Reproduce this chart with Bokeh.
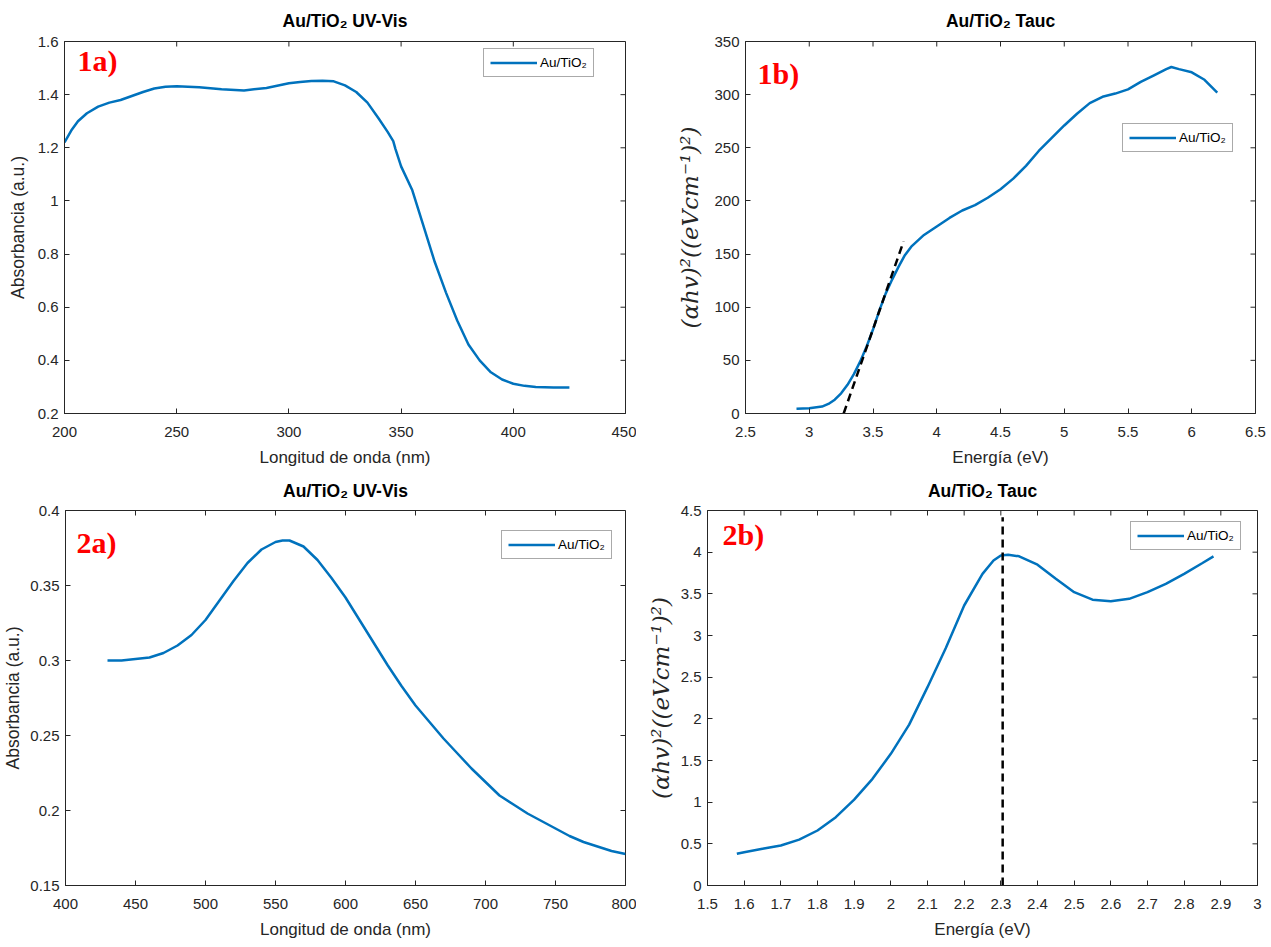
import math
from bokeh.plotting import figure
from bokeh.models import FixedTicker, CustomJSTickFormatter, Label, Range1d
from bokeh.layouts import column, row
from bokeh.embed import file_html
from bokeh.resources import INLINE

# ---------------- data ----------------
# 1a) UV-Vis
wl_1a = [200, 203, 206, 210, 215, 220, 225, 230, 235, 240, 245, 250, 260, 270, 280, 290,
         300, 305, 310, 315, 320, 325, 330, 335, 340, 344, 346.5, 347.5, 350, 355,
         360, 365, 370, 375, 380, 385, 390, 395, 400, 405, 410, 418, 425]
abs_1a = [1.22, 1.265, 1.30, 1.33, 1.355, 1.37, 1.38, 1.395, 1.41, 1.423, 1.43, 1.432, 1.428,
          1.42, 1.416, 1.425, 1.443, 1.448, 1.451, 1.452, 1.45, 1.435, 1.41, 1.37, 1.31,
          1.26, 1.225, 1.195, 1.13, 1.04, 0.905, 0.77, 0.655, 0.55, 0.46, 0.40, 0.355,
          0.328, 0.312, 0.304, 0.300, 0.298, 0.298]

# 1b) Tauc
en_1b = [2.9, 3.0, 3.1, 3.15, 3.2, 3.25, 3.3, 3.35, 3.4, 3.45, 3.5, 3.55, 3.6, 3.65,
         3.7, 3.75, 3.8, 3.9, 4.0, 4.1, 4.2, 4.3, 4.4, 4.5, 4.6, 4.7, 4.8, 4.9, 5.0,
         5.1, 5.2, 5.3, 5.4, 5.5, 5.6, 5.7, 5.8, 5.84, 5.9, 6.0, 6.1, 6.2]
tauc_1b = [4.5, 5.0, 6.5, 9, 13, 19, 27, 37, 49, 63, 79, 97, 113, 126, 138, 149, 157,
           168, 176, 184, 191, 196, 203, 211, 221, 233, 247, 259, 271, 282, 292, 298,
           301, 305, 312, 318, 324, 326, 324, 321, 314, 302]
fit_x_1b = [3.27, 3.74]
fit_y_1b = [0, 162]

# 2a) UV-Vis
wl_2a = [430, 440, 450, 460, 470, 480, 490, 500, 510, 520, 530, 540, 550, 555, 560,
         570, 580, 590, 600, 610, 620, 630, 640, 650, 660, 670, 680, 690, 700, 710,
         720, 730, 740, 750, 760, 770, 780, 790, 800]
abs_2a = [0.300, 0.300, 0.301, 0.302, 0.305, 0.310, 0.317, 0.327, 0.340, 0.353, 0.365,
          0.374, 0.379, 0.380, 0.380, 0.376, 0.367, 0.355, 0.342, 0.327, 0.312, 0.297,
          0.283, 0.270, 0.259, 0.248, 0.238, 0.228, 0.219, 0.210, 0.204, 0.198, 0.193,
          0.188, 0.183, 0.179, 0.176, 0.173, 0.171]

# 2b) Tauc
en_2b = [1.58, 1.6, 1.65, 1.7, 1.75, 1.8, 1.85, 1.9, 1.95, 2.0, 2.05, 2.1, 2.15, 2.2,
         2.25, 2.28, 2.3, 2.32, 2.35, 2.4, 2.45, 2.5, 2.55, 2.6, 2.65, 2.7, 2.75, 2.8,
         2.85, 2.88]
tauc_2b = [0.38, 0.40, 0.44, 0.48, 0.55, 0.66, 0.82, 1.03, 1.28, 1.58, 1.93, 2.38, 2.85,
           3.36, 3.74, 3.90, 3.96, 3.97, 3.95, 3.85, 3.68, 3.52, 3.43, 3.41, 3.44, 3.52,
           3.62, 3.74, 3.87, 3.95]
peak_x_2b = [2.305, 2.305]
peak_y_2b = [0, 4.42]

# tick values
xt_1a = [200, 250, 300, 350, 400, 450]
yt_1a = [0.2, 0.4, 0.6, 0.8, 1, 1.2, 1.4, 1.6]
xt_1b = [2.5, 3, 3.5, 4, 4.5, 5, 5.5, 6, 6.5]
yt_1b = [0, 50, 100, 150, 200, 250, 300, 350]
xt_2a = [400, 450, 500, 550, 600, 650, 700, 750, 800]
yt_2a = [0.15, 0.2, 0.25, 0.3, 0.35, 0.4]
xt_2b = [1.5, 1.6, 1.7, 1.8, 1.9, 2, 2.1, 2.2, 2.3, 2.4, 2.5, 2.6, 2.7, 2.8, 2.9, 3]
yt_2b = [0, 0.5, 1, 1.5, 2, 2.5, 3, 3.5, 4, 4.5]

# axis ranges
xr_1a, yr_1a = (200, 450), (0.2, 1.6)
xr_1b, yr_1b = (2.5, 6.5), (0, 350)
xr_2a, yr_2a = (400, 800), (0.15, 0.4)
xr_2b, yr_2b = (1.5, 3.0), (0, 4.5)

# texts
title_uv = "Au/TiO₂ UV-Vis"
title_tauc = "Au/TiO₂ Tauc"
legend_txt = "Au/TiO₂"
xlab_wl = "Longitud de onda (nm)"
xlab_en = "Energía (eV)"
ylab_abs = "Absorbancia (a.u.)"
ylab_tauc = "(αhv)²((eVcm⁻¹)²)"

BLUE = "#0072BD"
AX = "#262626"
FONT = "Liberation Sans"

fmt_code = "return String(parseFloat(tick.toFixed(4)));"


def style_axis(ax, ticks, label_standoff):
    ax.ticker = FixedTicker(ticks=ticks)
    ax.formatter = CustomJSTickFormatter(code=fmt_code)
    ax.major_tick_in = 5
    ax.major_tick_out = 0
    ax.minor_tick_line_color = None
    ax.axis_line_color = AX
    ax.axis_line_width = 1
    ax.major_tick_line_color = AX
    ax.major_tick_line_width = 1
    ax.major_label_text_color = AX
    ax.major_label_text_font = FONT
    ax.major_label_text_font_size = "15px"
    ax.major_label_standoff = label_standoff


def make_fig(width, height, left, right, top, bottom, xr, yr, xt, yt, title,
             xlabel, ylabel, math_y=False, ylab_standoff=10, title_standoff=18):
    p = figure(width=width, height=height, x_range=Range1d(*xr), y_range=Range1d(*yr),
               output_backend="svg", toolbar_location=None,
               min_border_left=left, min_border_right=right,
               min_border_top=top, min_border_bottom=bottom)
    p.grid.visible = False
    p.outline_line_color = AX
    p.outline_line_width = 1
    p.background_fill_color = "white"
    p.border_fill_color = "white"
    style_axis(p.xaxis[0], xt, 13)
    style_axis(p.yaxis[0], yt, 6)
    p.xaxis.axis_label = xlabel
    p.xaxis.axis_label_text_font = FONT
    p.xaxis.axis_label_text_font_size = "17px"
    p.xaxis.axis_label_text_font_style = "normal"
    p.xaxis.axis_label_text_color = AX
    p.xaxis.axis_label_standoff = 8
    p.yaxis.axis_label = ylabel
    p.yaxis.axis_label_text_color = AX
    p.yaxis.axis_label_standoff = ylab_standoff
    if math_y:
        p.yaxis.axis_label_text_font = "DejaVu Serif"
        p.yaxis.axis_label_text_font_size = "23px"
        p.yaxis.axis_label_text_font_style = "italic"
    else:
        p.yaxis.axis_label_text_font = FONT
        p.yaxis.axis_label_text_font_size = "17.5px"
        p.yaxis.axis_label_text_font_style = "normal"
    # inward ticks on the top and right edges of the box (MATLAB "box on")
    p.ray(x=xt, y=[yr[1]] * len(xt), length=5, length_units="screen",
          angle=-math.pi / 2, line_color=AX, line_width=1)
    p.ray(x=[xr[1]] * len(yt), y=yt, length=5, length_units="screen",
          angle=math.pi, line_color=AX, line_width=1)
    p.title.text = title
    p.title.align = "center"
    p.title.vertical_align = "top"
    p.title.text_font = FONT
    p.title.text_font_size = "17.5px"
    p.title.text_font_style = "bold"
    p.title.text_color = "black"
    p.title.standoff = title_standoff
    return p


def style_legend(p, loc):
    lg = p.legend[0]
    lg.location = loc
    lg.margin = 0
    lg.padding = 6
    lg.spacing = 0
    lg.glyph_width = 47
    lg.glyph_height = 13
    lg.label_height = 13
    lg.label_standoff = 3
    lg.label_text_font = FONT
    lg.label_text_font_size = "13.5px"
    lg.label_text_color = "black"
    lg.border_line_color = "#555555"
    lg.border_line_width = 1
    lg.background_fill_color = "white"
    lg.background_fill_alpha = 1


def tag(p, x, y, text):
    p.add_layout(Label(x=x, y=y, text=text, text_color="red", text_font="Liberation Serif",
                       text_font_size="30px", text_font_style="bold",
                       text_baseline="middle", text_align="left"))


# ---- 1a ----
p1 = make_fig(636, 470, 64, 11, 41, 57, xr_1a, yr_1a, xt_1a, yt_1a,
              title_uv, xlab_wl, ylab_abs, ylab_standoff=7, title_standoff=17)
p1.line(wl_1a, abs_1a, line_color=BLUE, line_width=2.5, legend_label=legend_txt)
style_legend(p1, (419, 336))
tag(p1, 205.8, 1.527, "1a)")

# ---- 1b ----
p2 = make_fig(635, 470, 109, 16, 41, 57, xr_1b, yr_1b, xt_1b, yt_1b,
              title_tauc, xlab_en, ylab_tauc, math_y=True, ylab_standoff=8,
              title_standoff=17)
p2.line(en_1b, tauc_1b, line_color=BLUE, line_width=2.5, legend_label=legend_txt)
p2.line(fit_x_1b, fit_y_1b, line_color="black", line_width=2.5, line_dash="8 5")
style_legend(p2, (377, 261))
tag(p2, 2.594, 319.9, "1b)")

# ---- 2a ----
p3 = make_fig(636, 477, 64, 11, 40, 62, xr_2a, yr_2a, xt_2a, yt_2a,
              title_uv, xlab_wl, ylab_abs, ylab_standoff=4, title_standoff=16)
p3.line(wl_2a, abs_2a, line_color=BLUE, line_width=2.5, legend_label=legend_txt)
style_legend(p3, (436, 326))
tag(p3, 407.8, 0.379, "2a)")

# ---- 2b ----
p4 = make_fig(635, 477, 71, 14, 40, 62, xr_2b, yr_2b, xt_2b, yt_2b,
              title_tauc, xlab_en, ylab_tauc, math_y=True, ylab_standoff=4,
              title_standoff=16)
p4.line(en_2b, tauc_2b, line_color=BLUE, line_width=2.5, legend_label=legend_txt)
p4.line(peak_x_2b, peak_y_2b, line_color="black", line_width=2.5, line_dash="8 5")
style_legend(p4, (423, 335))
tag(p4, 1.541, 4.212, "2b)")

layout = column(row(p1, p2), row(p3, p4))
open("out.html", "w").write(file_html(layout, INLINE))
